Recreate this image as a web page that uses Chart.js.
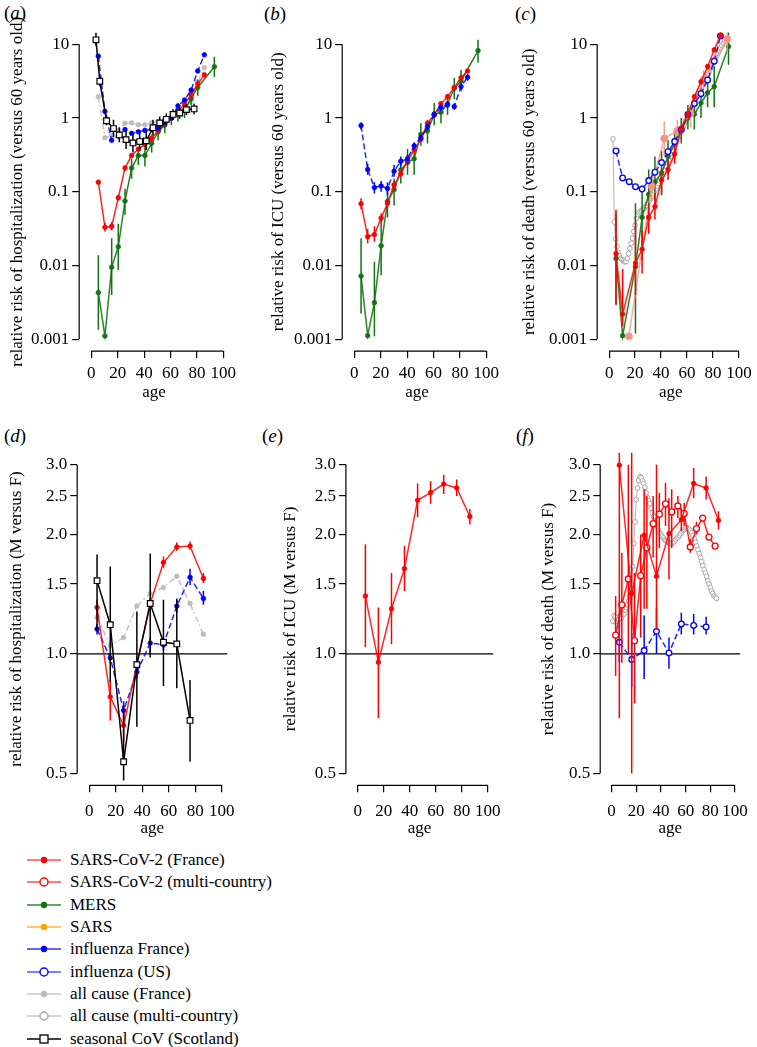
<!DOCTYPE html>
<html>
<head>
<meta charset="utf-8">
<script src="https://cdn.jsdelivr.net/npm/chart.js@4.4.0/dist/chart.umd.min.js"></script>
<style>
html, body { margin: 0; padding: 0; background: #fff; overflow: hidden; }
body { width: 757px; height: 1047px; position: relative; font-family: 'Liberation Serif', 'DejaVu Serif', serif; color: #000; }
canvas { position: absolute; }
.plab { position: absolute; font-size: 19px; }
#legend { position: absolute; left: 27px; top: 849px; }
.row { height: 22.3px; display: flex; align-items: center; font-size: 17px; white-space: nowrap; }
.row svg { width: 43px; height: 22px; flex: none; }
</style>
</head>
<body>
<div class="plab" style="left:4px;top:2px">(<i>a</i>)</div>
<div class="plab" style="left:264px;top:3px">(<i>b</i>)</div>
<div class="plab" style="left:515px;top:3px">(<i>c</i>)</div>
<div class="plab" style="left:4px;top:425px">(<i>d</i>)</div>
<div class="plab" style="left:262px;top:425px">(<i>e</i>)</div>
<div class="plab" style="left:516px;top:425px">(<i>f</i>)</div>
<canvas id="pa"></canvas>
<canvas id="pb"></canvas>
<canvas id="pc"></canvas>
<canvas id="pd"></canvas>
<canvas id="pe"></canvas>
<canvas id="pf"></canvas>
<div id="legend"></div>
<script>
// axes
const xTicks = [0, 20, 40, 60, 80, 100];
const yTicksTop = [0.001, 0.01, 0.1, 1, 10];
const yLabelsTop = ['0.001', '0.01', '0.1', '1', '10'];
const yTicksBottom = [0.5, 1, 1.5, 2, 2.5, 3];
const yLabelsBottom = ['0.5', '1.0', '1.5', '2.0', '2.5', '3.0'];

// (a) hospitalization vs 60 years old
const hospFrAge = [5.3, 10.3, 15.4, 20.4, 25.5, 30.5, 35.6, 40.6, 45.6, 50.6, 55.6, 60.6, 65.6, 70.6, 75.6, 80.6, 85.6];
const hospFr = [0.135, 0.033, 0.034, 0.083, 0.21, 0.31, 0.38, 0.44, 0.53, 0.68, 0.84, 1.0, 1.22, 1.55, 2.05, 2.9, 3.85];
const hospFrLo = [0.125, 0.029, 0.030, 0.076, 0.195, 0.29, 0.36, 0.42, 0.51, 0.66, 0.82, null, 1.18, 1.5, 1.98, 2.8, 3.7];
const hospFrHi = [0.145, 0.038, 0.039, 0.091, 0.225, 0.33, 0.40, 0.46, 0.55, 0.70, 0.86, null, 1.26, 1.6, 2.12, 3.0, 4.0];
const hospFlu = [6.9, 1.23, 0.50, 0.57, 0.70, 0.62, 0.65, 0.68, 0.70, 0.72, 0.86, 1.0, 1.46, 1.76, 2.4, 4.35, 7.2];
const hospAllFr = [1.95, 0.54, 0.58, 0.68, 0.85, 0.86, 0.81, 0.81, 0.86, 0.9, 0.95, 1.0, 1.12, 1.3, 1.7, 3.1, 4.8];
const hospMersAge = [5.3, 10.3, 15.4, 20.4, 25.5, 30.5, 35.6, 40.6, 45.7, 50.6, 55.6, 60.6, 65.6, 70.6, 75.6, 80.6, 93.2];
const hospMers = [0.0043, 0.00111, 0.0095, 0.018, 0.075, 0.21, 0.31, 0.31, 0.455, 0.65, 0.8, 1.0, 1.18, 1.28, 1.85, 2.6, 4.97];
const hospMersLo = [0.00135, null, 0.004, 0.0087, 0.049, 0.15, 0.23, 0.22, 0.34, 0.5, 0.62, 0.8, 0.9, 1.0, 1.5, 2.0, 3.6];
const hospMersHi = [0.0138, null, 0.0234, 0.037, 0.11, 0.28, 0.40, 0.42, 0.6, 0.82, 1.0, 1.25, 1.5, 1.6, 2.3, 3.3, 6.8];
const hospCovAge = [3.5, 6.4, 11.5, 16.8, 21.2, 26.3, 31.5, 36.6, 41.6, 46.7, 51.8, 56.8, 61.9, 66.9, 72, 77.8];
const hospCov = [11.5, 3.15, 0.92, 0.72, 0.59, 0.51, 0.46, 0.48, 0.49, 0.74, 0.86, 0.96, 1.12, 1.17, 1.3, 1.33];
const hospCovLo = [9.5, 2.7, 0.8, 0.55, 0.47, 0.38, 0.34, 0.36, 0.37, 0.58, 0.7, 0.8, 0.95, 0.98, 1.1, 1.13];
const hospCovHi = [14.5, 3.6, 1.1, 0.95, 0.75, 0.68, 0.62, 0.65, 0.65, 0.95, 1.05, 1.15, 1.32, 1.4, 1.55, 1.58];

// (b) ICU vs 60 years old
const icuAge = [5.1, 10.1, 15.2, 20.3, 25.1, 30.1, 35.2, 40.3, 45.3, 50.4, 55.4, 60.5, 65.6, 70.6, 75.7, 80.8, 85.8];
const icuFlu = [0.79, 0.20, 0.114, 0.12, 0.111, 0.19, 0.26, 0.28, 0.42, 0.54, 0.76, 1.12, 1.4, 1.52, 1.43, 2.67, 3.57];
const icuFluLo = [0.7, 0.17, 0.095, 0.1, 0.09, 0.16, 0.22, 0.24, 0.37, 0.48, 0.68, 1.0, 1.25, 1.35, 1.3, 2.4, 3.2];
const icuFluHi = [0.88, 0.24, 0.135, 0.14, 0.135, 0.23, 0.3, 0.32, 0.47, 0.6, 0.85, 1.25, 1.55, 1.7, 1.58, 2.95, 3.95];
const icuFr = [0.069, 0.0247, 0.0263, 0.044, 0.07, 0.124, 0.176, 0.26, 0.37, 0.515, 0.85, 1.1, 1.57, 1.95, 2.6, 3.53, 4.35];
const icuFrLo = [0.058, 0.02, 0.021, 0.038, 0.062, 0.11, 0.16, 0.24, 0.34, 0.48, 0.8, 1.03, 1.48, 1.84, 2.45, 3.3, 4.1];
const icuFrHi = [0.082, 0.031, 0.034, 0.051, 0.08, 0.14, 0.195, 0.28, 0.4, 0.55, 0.9, 1.17, 1.66, 2.07, 2.75, 3.75, 4.6];
const icuMersAge = [5.1, 10.1, 15.2, 20.3, 25.1, 30.1, 35.2, 40.3, 45.3, 50.4, 55.4, 60.5, 65.6, 70.6, 75.7, 80.8, 93.7];
const icuMers = [0.0072, 0.00112, 0.00314, 0.0185, 0.074, 0.107, 0.198, 0.25, 0.28, 0.6, 0.67, 1.12, 1.2, 1.55, 2.53, 3.18, 8.2];
const icuMersLo = [0.00224, null, 0.0011, 0.0074, 0.045, 0.065, 0.13, 0.17, 0.17, 0.42, 0.45, 0.8, 0.85, 1.1, 1.8, 2.3, 5.6];
const icuMersHi = [0.0234, null, 0.0113, 0.042, 0.11, 0.15, 0.28, 0.38, 0.38, 0.85, 0.95, 1.6, 1.6, 2.1, 3.5, 4.5, 11.5];

// (c) death vs 60 years old
const deathFrAge = [5.3, 10.4, 20.3, 25.4, 30.5, 35.3, 40.4, 45.4, 50.5, 55.6, 60.7, 65.7, 70.8, 75.9, 81, 86];
const deathFr = [0.0145, 0.0022, 0.0108, 0.0166, 0.045, 0.063, 0.144, 0.20, 0.326, 0.72, 1.12, 1.95, 3.1, 5.0, 8.4, 13.4];
const deathFrLo = [0.0029, 0.0015, 0.004, 0.0078, 0.027, 0.042, 0.095, 0.145, 0.24, 0.63, 1.0, 1.8, 2.85, 4.6, 7.8, 12];
const deathFrHi = [0.057, 0.009, 0.04, 0.03, 0.07, 0.095, 0.2, 0.27, 0.41, 0.82, 1.25, 2.1, 3.35, 5.4, 9.0, 15];
const deathOtherAge = [15.2, 32.7, 42.5, 52.6, 62.7, 72.8, 91.1];
const deathOther = [0.0011, 0.12, 0.53, 0.67, 1.14, 3.3, 11.8];
const deathOtherLo = [null, 0.077, 0.3, 0.45, 0.75, 2.4, 7.5];
const deathOtherHi = [null, 0.18, 0.9, 0.95, 1.5, 4.4, 16];
const deathFluUsAge = [5.3, 10.4, 15.5, 20.3, 25.4, 30.5, 35.3, 40.4, 45.4, 50.5, 55.6, 60.7, 65.7, 70.8, 75.9, 81, 85.8];
const deathFluUs = [0.358, 0.154, 0.137, 0.117, 0.109, 0.142, 0.184, 0.249, 0.35, 0.48, 0.70, 1.12, 1.57, 2.14, 3.28, 5.9, 13];
const deathMersAge = [5.3, 10.4, 20.3, 25.4, 30.5, 35.3, 40.4, 45.4, 50.5, 55.6, 60.7, 65.7, 70.8, 75.9, 81, 92];
const deathMers = [0.0125, 0.00112, 0.0097, 0.045, 0.092, 0.137, 0.18, 0.30, 0.45, 0.7, 1.0, 1.13, 1.6, 2.2, 2.67, 9.3];
const deathMersLo = [0.003, null, 0.0012, 0.012, 0.04, 0.06, 0.09, 0.17, 0.28, 0.45, 0.7, 0.7, 1.0, 1.4, 1.4, 5.3];
const deathMersHi = [0.051, null, 0.07, 0.1, 0.2, 0.3, 0.36, 0.5, 0.7, 1.0, 1.5, 1.8, 2.6, 3.4, 5.0, 15];
const deathAllAge = [3, 4, 5, 6, 7, 8, 9, 10, 11, 12, 13, 14, 15, 16, 17, 18, 19, 20, 21, 22, 23, 24, 25, 26, 27, 28, 29, 30,
  31, 32, 33, 34, 35, 36, 37, 38, 39, 40, 41, 42, 43, 44, 45, 46, 47, 48, 49, 50, 51, 52, 53, 54, 55, 56, 57, 58, 59, 60,
  61, 62, 63, 64, 65, 66, 67, 68, 69, 70, 71, 72, 73, 74, 75, 76, 77, 78, 79, 80, 81, 82, 83, 84, 85, 86, 87, 88, 89];
const deathAll = [0.52, 0.039, 0.023, 0.018, 0.015, 0.0135, 0.0125, 0.012, 0.0115, 0.0112, 0.0114, 0.0125, 0.0145, 0.017,
  0.02, 0.0235, 0.029, 0.035, 0.044, 0.049, 0.052, 0.054, 0.056, 0.058, 0.06, 0.063, 0.066, 0.07, 0.075, 0.081, 0.087,
  0.094, 0.102, 0.11, 0.12, 0.13, 0.14, 0.152, 0.165, 0.18, 0.2, 0.22, 0.245, 0.27, 0.3, 0.33, 0.36, 0.4, 0.44, 0.48,
  0.53, 0.58, 0.63, 0.69, 0.76, 0.83, 0.91, 1.0, 1.09, 1.19, 1.3, 1.42, 1.55, 1.69, 1.84, 2.0, 2.18, 2.38, 2.6, 2.83,
  3.08, 3.35, 3.65, 3.97, 4.3, 4.68, 5.08, 5.5, 5.97, 6.47, 7.0, 7.6, 8.2, 8.9, 9.6, 10.4, 11.2];

// (d) hospitalization M vs F
const sexAge = [5.8, 15.8, 25.9, 35.9, 46, 56, 66.1, 76.1, 86.2];
const hospSexFr = [1.31, 0.78, 0.66, 0.94, 1.34, 1.70, 1.86, 1.87, 1.55];
const hospSexFrLo = [1.25, 0.68, 0.6, 0.9, 1.3, 1.65, 1.82, 1.83, 1.51];
const hospSexFrHi = [1.37, 0.86, 0.73, 0.98, 1.38, 1.76, 1.91, 1.92, 1.6];
const hospSexFlu = [1.155, 0.977, 0.72, 0.90, 1.065, 1.055, 1.32, 1.56, 1.38];
const hospSexFluLo = [1.12, 0.95, 0.68, 0.87, 1.0, 1.02, 1.27, 1.49, 1.33];
const hospSexFluHi = [1.19, 1.0, 0.76, 0.93, 1.1, 1.09, 1.38, 1.64, 1.44];
const hospSexAllFr = [1.235, 1.05, 1.10, 1.32, 1.42, 1.47, 1.57, 1.34, 1.12];
const hospSexCovAge = [5.8, 15.8, 25.9, 35.9, 46, 56, 66.1, 76.1];
const hospSexCov = [1.53, 1.185, 0.535, 0.94, 1.34, 1.07, 1.06, 0.68];
const hospSexCovLo = [1.14, 0.85, 0.48, 0.655, 0.98, 0.83, 0.82, 0.535];
const hospSexCovHi = [1.78, 1.66, 0.74, 1.28, 1.79, 1.37, 1.37, 0.86];

// (e) ICU M vs F
const icuSexFr = [1.40, 0.953, 1.30, 1.64, 2.44, 2.55, 2.68, 2.62, 2.22];
const icuSexFrLo = [1.04, 0.69, 1.06, 1.44, 2.21, 2.39, 2.53, 2.50, 2.12];
const icuSexFrHi = [1.89, 1.31, 1.60, 1.87, 2.69, 2.73, 2.83, 2.75, 2.32];

// (f) death M vs F
const deathSexAge = [6.3, 16.3, 26.4, 36.4, 46.5, 56.5, 66.5, 76.6, 86.6];
const deathSexFr = [2.99, 1.42, 1.99, 1.57, 2.01, 2.18, 2.69, 2.62, 2.17];
const deathSexFrLo = [0.69, 0.5, 1.3, 1.15, 1.54, 2.04, 2.47, 2.45, 2.06];
const deathSexFrHi = [3.5, 3.5, 2.6, 3.0, 2.47, 2.33, 2.94, 2.8, 2.29];
const deathSexMultiAge = [3.3, 8.3, 13.6, 18.6, 23.6, 28.6, 33.7, 38.7, 43.7, 48.7, 53.7, 58.8, 63.8, 68.8, 73.8, 78.9, 83.9];
const deathSexMulti = [1.116, 1.33, 1.545, 1.08, 1.575, 1.85, 2.13, 2.25, 2.39, 2.28, 2.36, 2.26, 1.86, 2.07, 2.20, 1.97, 1.87];
const deathSexMultiLo = [0.88, 0.95, 1.0, 0.75, 1.1, 1.3, 1.75, 1.85, 2.1, 1.85, 2.2, 2.1, 1.8, 2.0, null, null, null];
const deathSexMultiHi = [1.40, 1.8, 3.0, 1.6, 2.0, 2.5, 2.5, 2.55, 2.7, 2.6, 2.5, 2.4, 1.95, 2.15, null, null, null];
const deathSexFluUsAge = [6.3, 16.3, 26.4, 36.4, 46.5, 56.5, 66.5, 76.6];
const deathSexFluUs = [1.07, 0.968, 1.02, 1.14, 1.006, 1.19, 1.18, 1.17];
const deathSexFluUsLo = [0.953, 0.825, 0.865, 1.0, 0.917, 1.12, 1.12, 1.12];
const deathSexFluUsHi = [1.26, 1.13, 1.25, 1.31, 1.10, 1.27, 1.26, 1.24];
const deathSexAllAge = [1, 2, 3, 4, 5, 6, 7, 8, 9, 10, 11, 12, 13, 14, 15, 16, 17, 18, 19, 20, 21, 22, 23, 24, 25, 26, 27, 28,
  29, 30, 31, 32, 33, 34, 35, 36, 37, 38, 39, 40, 41, 42, 43, 44, 45, 46, 47, 48, 49, 50, 51, 52, 53, 54, 55, 56, 57, 58,
  59, 60, 61, 62, 63, 64, 65, 66, 67, 68, 69, 70, 71, 72, 73, 74, 75, 76, 77, 78, 79, 80, 81, 82, 83, 84, 85];
const deathSexAll = [1.21, 1.25, 1.24, 1.20, 1.18, 1.22, 1.25, 1.23, 1.27, 1.26, 1.29, 1.31, 1.33, 1.36, 1.40, 1.46, 1.66,
  1.90, 2.15, 2.45, 2.62, 2.74, 2.80, 2.78, 2.73, 2.69, 2.63, 2.55, 2.48, 2.43, 2.39, 2.33, 2.27, 2.22, 2.16, 2.12, 2.09,
  2.05, 2.02, 2.00, 1.98, 1.96, 1.94, 1.93, 1.92, 1.91, 1.90, 1.90, 1.90, 1.91, 1.92, 1.94, 1.96, 1.97, 1.99, 2.01, 2.03,
  2.05, 2.06, 2.07, 2.08, 2.07, 2.06, 2.04, 2.02, 1.99, 1.95, 1.91, 1.87, 1.83, 1.79, 1.75, 1.71, 1.67, 1.63, 1.60, 1.57,
  1.53, 1.50, 1.47, 1.44, 1.42, 1.40, 1.39, 1.38];

// legend
const legendLabels = ['SARS-CoV-2 (France)', 'SARS-CoV-2 (multi-country)', 'MERS', 'SARS', 'influenza France)',
  'influenza (US)', 'all cause (France)', 'all cause (multi-country)', 'seasonal CoV (Scotland)'];
const legendLine = ['#ff5050', '#ff5050', '#2f8a2f', '#ffb733', '#3030ff', '#5050ff', '#c8c8c8', '#c8c8c8', '#000'];
const legendPoint = ['#ff0000', '#ff0000', '#137313', '#ffa500', '#0000ff', '#0000ff', '#bdbdbd', '#a8a8a8', '#000'];
const legendMarker = ['dot', 'circle', 'dot', 'dot', 'dot', 'circle', 'dot', 'circle', 'square'];

const FONT = "'Liberation Serif', 'DejaVu Serif', serif";
const FONT_SIZE = 17;
Chart.defaults.font.family = FONT;
Chart.defaults.font.size = FONT_SIZE;
Chart.defaults.color = '#000';

const styles = {
  fr: { borderColor: 'rgba(255,0,0,0.85)', pointBackgroundColor: '#ff0000', pointBorderColor: '#ff0000', pointRadius: 2.3, pointBorderWidth: 0.8, barColor: '#ff0000' },
  multi: { borderColor: 'rgba(255,0,0,0.85)', pointBackgroundColor: '#fff', pointBorderColor: '#ff0000', pointRadius: 3, pointBorderWidth: 1.3, barColor: '#ff0000' },
  mers: { borderColor: 'rgba(19,115,19,0.9)', pointBackgroundColor: '#137313', pointBorderColor: '#137313', pointRadius: 2.3, pointBorderWidth: 0.8, barColor: '#137313' },
  flu: { borderColor: 'rgba(0,0,255,0.85)', borderDash: [6, 3], pointBackgroundColor: '#0000ff', pointBorderColor: '#0000ff', pointRadius: 2.3, pointBorderWidth: 0.8, barColor: '#0000ff' },
  fluUs: { borderColor: 'rgba(0,0,255,0.85)', borderDash: [6, 3], pointBackgroundColor: '#fff', pointBorderColor: '#0000ff', pointRadius: 2.8, pointBorderWidth: 1.3, barColor: '#0000ff' },
  allFr: { borderColor: 'rgba(190,190,190,0.9)', borderDash: [6, 3, 1.5, 3], pointBackgroundColor: '#bdbdbd', pointBorderColor: '#bdbdbd', pointRadius: 2.3, pointBorderWidth: 0.8, barColor: '#bdbdbd' },
  allMulti: { borderColor: 'rgba(170,170,170,0.9)', borderWidth: 1, pointBackgroundColor: '#fff', pointBorderColor: '#a8a8a8', pointRadius: 2.4, pointBorderWidth: 1, barColor: '#a8a8a8' },
  cov: { borderColor: '#000', pointStyle: 'rect', pointBackgroundColor: '#fff', pointBorderColor: '#000', pointRadius: 4, pointBorderWidth: 1.2, barColor: '#000' },
  other: { borderColor: 'rgba(245,148,132,0.8)', pointBackgroundColor: '#f59484', pointBorderColor: '#f59484', pointRadius: 3.5, pointBorderWidth: 0.8, barColor: 'rgba(245,148,132,0.9)' }
};

function series(xs, ys, style, lo, hi) {
  return Object.assign({
    data: xs.map((x, i) => ({ x: x, y: ys[i] })),
    lo: lo, hi: hi,
    showLine: true, tension: 0, borderWidth: 1.5, fill: false
  }, style);
}

const errorBars = {
  id: 'errorBars',
  beforeDatasetDraw(chart, args) {
    const ds = chart.data.datasets[args.index];
    if (!ds.lo) return;
    const { ctx, chartArea, scales } = chart;
    ctx.save();
    ctx.beginPath();
    ctx.rect(chartArea.left, chartArea.top, chartArea.width, chartArea.height);
    ctx.clip();
    ctx.strokeStyle = ds.barColor;
    ctx.lineWidth = 1.5;
    ds.data.forEach((p, i) => {
      if (ds.lo[i] == null) return;
      const px = scales.x.getPixelForValue(p.x);
      ctx.beginPath();
      ctx.moveTo(px, scales.y.getPixelForValue(ds.lo[i]));
      ctx.lineTo(px, scales.y.getPixelForValue(ds.hi[i]));
      ctx.stroke();
    });
    ctx.restore();
  }
};

function makePanel(id, cfg) {
  const canvas = document.getElementById(id);
  const half = FONT_SIZE * 0.6;
  const left = cfg.titleX - half;
  const width = Math.round(cfg.plotRight - left + cfg.padRight);
  const padRight = width - (cfg.plotRight - left);
  canvas.width = width;
  canvas.height = cfg.canvasHeight;
  canvas.style.left = left + 'px';
  canvas.style.top = cfg.canvasTop + 'px';
  const yTicks = cfg.bottom ? yTicksBottom : yTicksTop;
  const yLabels = cfg.bottom ? yLabelsBottom : yLabelsTop;

  // R style axes: line only from first to last tick, plus the reference line at 1
  const axisLines = {
    id: 'axisLines',
    beforeDatasetsDraw(chart) {
      if (!cfg.bottom) return;
      const { ctx, chartArea, scales } = chart;
      const py = scales.y.getPixelForValue(1);
      ctx.save();
      ctx.strokeStyle = '#000';
      ctx.lineWidth = 1.2;
      ctx.beginPath();
      ctx.moveTo(chartArea.left, py);
      ctx.lineTo(chartArea.right, py);
      ctx.stroke();
      ctx.restore();
    },
    afterDraw(chart) {
      const { ctx, chartArea, scales } = chart;
      ctx.save();
      ctx.strokeStyle = '#000';
      ctx.lineWidth = 1.2;
      ctx.beginPath();
      ctx.moveTo(scales.x.getPixelForValue(xTicks[0]), chartArea.bottom);
      ctx.lineTo(scales.x.getPixelForValue(xTicks[xTicks.length - 1]), chartArea.bottom);
      ctx.moveTo(chartArea.left, scales.y.getPixelForValue(yTicks[0]));
      ctx.lineTo(chartArea.left, scales.y.getPixelForValue(yTicks[yTicks.length - 1]));
      ctx.stroke();
      ctx.restore();
    }
  };

  new Chart(canvas, {
    type: 'line',
    data: { datasets: cfg.datasets },
    options: {
      responsive: false,
      animation: false,
      devicePixelRatio: 1,
      layout: { padding: { left: 0, right: padRight, top: cfg.plotTop - cfg.canvasTop, bottom: 0 } },
      plugins: { legend: { display: false }, tooltip: { enabled: false } },
      scales: {
        x: {
          type: 'linear', min: -9.2, max: 104.2,
          afterBuildTicks: s => { s.ticks = xTicks.map(v => ({ value: v })); },
          afterFit: s => { s.height = cfg.canvasTop + cfg.canvasHeight - cfg.plotBottom; },
          grid: { drawOnChartArea: false, drawTicks: true, tickLength: 7, color: '#000', lineWidth: 1.2 },
          border: { display: false },
          ticks: { padding: cfg.xPad, maxRotation: 0, autoSkip: false, callback: v => String(v) },
          title: { display: true, text: 'age', padding: 0 }
        },
        y: {
          type: 'logarithmic', min: cfg.yMin, max: cfg.yMax,
          afterBuildTicks: s => { s.ticks = yTicks.map(v => ({ value: v })); },
          afterFit: s => { s.width = cfg.axisX - left; },
          grid: { drawOnChartArea: false, drawTicks: true, tickLength: 7, color: '#000', lineWidth: 1.2 },
          border: { display: false },
          ticks: { padding: 3, autoSkip: false, callback: (v, i) => yLabels[i] },
          title: { display: true, text: cfg.yTitle, padding: 0 }
        }
      }
    },
    plugins: [errorBars, axisLines]
  });
}

const topGeom = { canvasTop: 0, canvasHeight: 403, plotTop: 32.5, plotBottom: 351.1, yMin: 0.000692, yMax: 14.45, xPad: 5 };
const botGeom = { canvasTop: 420, canvasHeight: 419, plotTop: 452.7, plotBottom: 785.3, yMin: 0.4666, yMax: 3.215, xPad: 9, bottom: true };

makePanel('pa', Object.assign({}, topGeom, {
  titleX: 17, axisX: 79, plotRight: 228.7, padRight: 16,
  yTitle: 'relative risk of hospitalization (versus 60 years old)',
  datasets: [
    series(hospCovAge, hospCov, styles.cov, hospCovLo, hospCovHi),
    series(hospFrAge, hospFlu, styles.flu),
    series(hospFrAge, hospFr, styles.fr, hospFrLo, hospFrHi),
    series(hospMersAge, hospMers, styles.mers, hospMersLo, hospMersHi),
    series(hospFrAge, hospAllFr, styles.allFr)
  ]
}));

makePanel('pb', Object.assign({}, topGeom, {
  titleX: 278, axisX: 342, plotRight: 491.7, padRight: 16,
  yTitle: 'relative risk of ICU (versus 60 years old)',
  datasets: [
    series(icuAge, icuFlu, styles.flu, icuFluLo, icuFluHi),
    series(icuAge, icuFr, styles.fr, icuFrLo, icuFrHi),
    series(icuMersAge, icuMers, styles.mers, icuMersLo, icuMersHi)
  ]
}));

makePanel('pc', Object.assign({}, topGeom, {
  titleX: 529, axisX: 597, plotRight: 746.7, padRight: 10,
  yTitle: 'relative risk of death (versus 60 years old)',
  datasets: [
    series(deathFrAge, deathFr, styles.fr, deathFrLo, deathFrHi),
    series(deathFluUsAge, deathFluUs, styles.fluUs),
    series(deathOtherAge, deathOther, styles.other, deathOtherLo, deathOtherHi),
    series(deathMersAge, deathMers, styles.mers, deathMersLo, deathMersHi),
    series(deathAllAge, deathAll, styles.allMulti)
  ]
}));

makePanel('pd', Object.assign({}, botGeom, {
  titleX: 16, axisX: 77, plotRight: 227.5, padRight: 16,
  yTitle: 'relative risk of hospitalization (M versus F)',
  datasets: [
    series(hospSexCovAge, hospSexCov, styles.cov, hospSexCovLo, hospSexCovHi),
    series(sexAge, hospSexFr, styles.fr, hospSexFrLo, hospSexFrHi),
    series(sexAge, hospSexFlu, styles.flu, hospSexFluLo, hospSexFluHi),
    series(sexAge, hospSexAllFr, styles.allFr)
  ]
}));

makePanel('pe', Object.assign({}, botGeom, {
  titleX: 290, axisX: 345.7, plotRight: 496.2, padRight: 14,
  yTitle: 'relative risk of ICU (M versus F)',
  datasets: [
    series(sexAge, icuSexFr, styles.fr, icuSexFrLo, icuSexFrHi)
  ]
}));

makePanel('pf', Object.assign({}, botGeom, {
  titleX: 548, axisX: 600, plotRight: 750.5, padRight: 6,
  yTitle: 'relative risk of death (M versus F)',
  datasets: [
    series(deathSexAge, deathSexFr, styles.fr, deathSexFrLo, deathSexFrHi),
    series(deathSexMultiAge, deathSexMulti, styles.multi, deathSexMultiLo, deathSexMultiHi),
    series(deathSexFluUsAge, deathSexFluUs, styles.fluUs, deathSexFluUsLo, deathSexFluUsHi),
    series(deathSexAllAge, deathSexAll, styles.allMulti)
  ]
}));

// legend
const legend = document.getElementById('legend');
legendLabels.forEach((label, i) => {
  const row = document.createElement('div');
  row.className = 'row';
  let marker;
  if (legendMarker[i] === 'dot') {
    marker = `<circle cx="17" cy="11" r="3.2" fill="${legendPoint[i]}"/>`;
  } else if (legendMarker[i] === 'circle') {
    marker = `<circle cx="17" cy="11" r="4" fill="#fff" stroke="${legendPoint[i]}" stroke-width="1.4"/>`;
  } else {
    marker = `<rect x="13" y="7" width="8" height="8" fill="#fff" stroke="${legendPoint[i]}" stroke-width="1.3"/>`;
  }
  row.innerHTML = `<svg viewBox="0 0 43 22"><line x1="0" y1="11" x2="34" y2="11" stroke="${legendLine[i]}" stroke-width="1.6"/>${marker}</svg><span>${label}</span>`;
  legend.appendChild(row);
});
</script>
</body>
</html>
